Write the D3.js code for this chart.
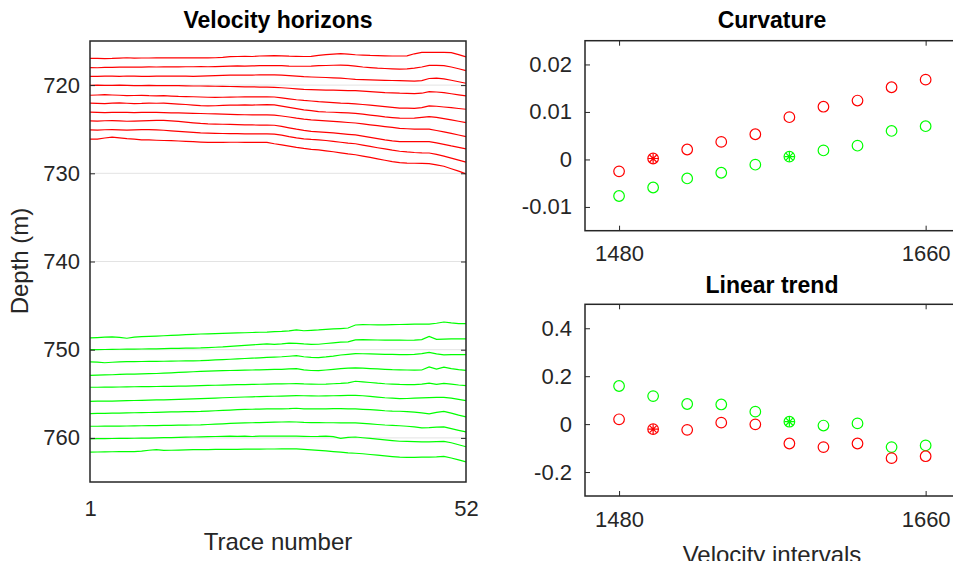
<!DOCTYPE html>
<html>
<head>
<meta charset="utf-8">
<script src="https://cdn.jsdelivr.net/npm/d3@7"></script>
<style>
  body { margin: 0; background: #fff; overflow: hidden; }
  svg { display: block; font-family: "Liberation Sans", Arial, Helvetica, sans-serif; }
  .tick text { fill: #262626; font-size: 22px; }
  .tick line { stroke: #262626; stroke-width: 1; }
</style>
</head>
<body>
<div id="chart"></div>
<script>
// horizon depths (m) per trace 1..52, picked off the figure
var redHorizons = [
  [716.96, 716.98, 717.00, 716.98, 716.94, 716.90, 716.95, 716.93, 716.93, 716.92, 716.92, 716.92, 716.92, 716.92, 716.92, 716.92, 716.92, 716.90, 716.85, 716.78, 716.76, 716.74, 716.76, 716.70, 716.68, 716.66, 716.68, 716.72, 716.74, 716.76, 716.74, 716.62, 716.55, 716.48, 716.44, 716.48, 716.56, 716.60, 716.64, 716.66, 716.68, 716.70, 716.70, 716.68, 716.45, 716.30, 716.28, 716.28, 716.28, 716.32, 716.55, 716.80],
  [718.02, 718.03, 718.0, 717.98, 717.97, 717.95, 717.97, 717.96, 717.94, 717.95, 717.93, 717.92, 717.93, 717.92, 717.92, 717.91, 717.92, 717.9, 717.88, 717.85, 717.83, 717.84, 717.82, 717.8, 717.8, 717.78, 717.8, 717.84, 717.86, 717.86, 717.84, 717.8, 717.78, 717.75, 717.74, 717.76, 717.85, 717.95, 718.02, 718.08, 718.12, 718.16, 718.2, 718.16, 718.08, 717.95, 717.76, 717.76, 717.8, 717.95, 718.15, 718.36],
  [719.0, 719.02, 718.99, 718.98, 719.0, 718.97, 718.98, 719.0, 719.01, 718.99, 718.98, 718.97, 718.98, 718.99, 719.0, 718.98, 718.96, 718.93, 718.9, 718.88, 718.87, 718.88, 718.86, 718.85, 718.84, 718.85, 718.88, 718.93, 718.98, 719.04, 719.08, 719.11, 719.14, 719.18, 719.22, 719.28, 719.34, 719.37, 719.4, 719.43, 719.46, 719.48, 719.5, 719.52, 719.55, 719.5, 719.25, 719.22, 719.3, 719.45, 719.62, 719.79],
  [720.02, 720.0, 720.03, 720.04, 720.0, 720.02, 720.05, 720.06, 720.04, 720.05, 720.07, 720.05, 720.06, 720.08, 720.1, 720.1, 720.12, 720.13, 720.15, 720.16, 720.18, 720.2, 720.2, 720.22, 720.24, 720.25, 720.3, 720.36, 720.42, 720.48, 720.52, 720.55, 720.57, 720.58, 720.6, 720.62, 720.63, 720.68, 720.74, 720.8, 720.85, 720.88, 720.92, 720.94, 720.96, 720.92, 720.74, 720.78, 720.85, 720.98, 721.1, 721.23],
  [721.15, 721.12, 721.08, 721.12, 721.15, 721.2, 721.18, 721.16, 721.2, 721.22, 721.2, 721.24, 721.28, 721.3, 721.32, 721.35, 721.38, 721.4, 721.38, 721.36, 721.35, 721.34, 721.33, 721.32, 721.33, 721.35, 721.45, 721.56, 721.66, 721.74, 721.8, 721.87, 721.92, 721.98, 722.04, 722.08, 722.13, 722.2, 722.28, 722.36, 722.44, 722.52, 722.6, 722.62, 722.64, 722.55, 722.36, 722.4, 722.48, 722.56, 722.65, 722.74],
  [722.05, 722.08, 722.1, 722.05, 722.02, 722.06, 722.1, 722.08, 722.04, 722.06, 722.05, 722.1, 722.15, 722.2, 722.26, 722.32, 722.36, 722.34, 722.3, 722.28, 722.26, 722.25, 722.26, 722.24, 722.22, 722.25, 722.38, 722.52, 722.66, 722.8, 722.9, 723.0, 723.05, 723.08, 723.12, 723.16, 723.2, 723.3, 723.4, 723.5, 723.6, 723.68, 723.75, 723.76, 723.74, 723.66, 723.57, 723.65, 723.8, 723.95, 724.1, 724.25],
  [723.07, 723.1, 723.12, 723.1, 723.08, 723.1, 723.12, 723.1, 723.08, 723.1, 723.12, 723.14, 723.16, 723.18, 723.2, 723.22, 723.25, 723.27, 723.3, 723.32, 723.34, 723.36, 723.37, 723.38, 723.38, 723.4, 723.5, 723.62, 723.75, 723.86, 723.94, 724.0, 724.06, 724.12, 724.18, 724.24, 724.3, 724.4, 724.5, 724.6, 724.7, 724.8, 724.9, 724.95, 725.0, 724.98, 725.0, 725.15, 725.3, 725.48, 725.66, 725.84],
  [724.06, 724.08, 724.04, 724.02, 724.06, 724.1, 724.08, 724.05, 724.02, 724.0, 724.0, 724.05, 724.12, 724.2, 724.28, 724.35, 724.4, 724.42, 724.44, 724.46, 724.48, 724.5, 724.52, 724.53, 724.54, 724.55, 724.68, 724.84, 725.0, 725.14, 725.24, 725.3, 725.36, 725.42, 725.5, 725.58, 725.65, 725.78, 725.92, 726.06, 726.2, 726.32, 726.4, 726.42, 726.42, 726.4, 726.4, 726.55, 726.72, 726.9, 727.06, 727.23],
  [725.08, 725.1, 725.06, 725.05, 725.08, 725.1, 725.08, 725.05, 725.05, 725.08, 725.12, 725.18, 725.24, 725.3, 725.36, 725.42, 725.45, 725.47, 725.49, 725.5, 725.51, 725.52, 725.53, 725.54, 725.54, 725.55, 725.68, 725.84, 725.98, 726.1, 726.16, 726.2, 726.28, 726.38, 726.48, 726.58, 726.65, 726.8, 726.95, 727.1, 727.24, 727.38, 727.5, 727.58, 727.64, 727.68, 727.7, 727.86, 728.06, 728.28, 728.5, 728.74],
  [726.13, 726.12, 726.0, 725.9, 725.98, 726.06, 726.12, 726.2, 726.22, 726.25, 726.28, 726.3, 726.34, 726.38, 726.42, 726.46, 726.5, 726.5, 726.49, 726.48, 726.48, 726.5, 726.5, 726.48, 726.5, 726.65, 726.78, 726.92, 727.06, 727.18, 727.28, 727.35, 727.45, 727.56, 727.68, 727.8, 727.9, 728.05, 728.2, 728.36, 728.52, 728.68, 728.8, 728.84, 728.86, 728.88, 728.9, 729.05, 729.2, 729.48, 729.76, 730.06]
]

var greenHorizons = [
  [748.67, 748.62, 748.58, 748.55, 748.6, 748.7, 748.58, 748.52, 748.48, 748.45, 748.42, 748.38, 748.34, 748.3, 748.26, 748.22, 748.2, 748.18, 748.15, 748.12, 748.1, 748.08, 748.05, 748.02, 748.0, 747.96, 747.92, 747.86, 747.75, 747.85, 747.8, 747.76, 747.7, 747.65, 747.6, 747.54, 747.2, 747.16, 747.17, 747.18, 747.18, 747.16, 747.14, 747.12, 747.1, 747.1, 747.09, 747.0, 746.86, 746.96, 747.04, 747.05],
  [749.99, 750.0, 749.98, 749.96, 749.95, 749.94, 749.93, 749.92, 749.9, 749.9, 749.88, 749.86, 749.85, 749.83, 749.82, 749.8, 749.76, 749.72, 749.68, 749.62, 749.56, 749.5, 749.45, 749.4, 749.35, 749.4, 749.34, 749.25, 749.28, 749.35, 749.4, 749.38, 749.3, 749.22, 749.15, 749.12, 748.88, 748.86, 748.88, 748.9, 748.92, 748.92, 748.92, 748.93, 748.92, 748.85, 748.5, 748.82, 748.8, 748.78, 748.78, 748.78],
  [751.39, 751.42, 751.48, 751.42, 751.38, 751.36, 751.35, 751.34, 751.33, 751.32, 751.31, 751.3, 751.28, 751.27, 751.26, 751.24, 751.2, 751.16, 751.12, 751.08, 751.04, 751.0, 750.96, 750.92, 750.88, 750.84, 750.8, 750.74, 750.67, 750.8, 750.88, 750.9, 750.82, 750.72, 750.6, 750.52, 750.45, 750.46, 750.48, 750.5, 750.52, 750.54, 750.55, 750.55, 750.52, 750.45, 750.3, 750.48, 750.58, 750.56, 750.55, 750.56],
  [752.9, 752.88, 752.86, 752.84, 752.8, 752.78, 752.76, 752.74, 752.72, 752.7, 752.66, 752.62, 752.58, 752.54, 752.5, 752.45, 752.42, 752.4, 752.38, 752.36, 752.34, 752.32, 752.3, 752.28, 752.26, 752.24, 752.22, 752.18, 752.15, 752.28, 752.36, 752.38, 752.3, 752.22, 752.14, 752.1, 752.07, 752.1, 752.14, 752.18, 752.22, 752.26, 752.28, 752.3, 752.32, 752.3, 751.96, 752.2, 751.98, 752.14, 752.26, 752.34],
  [754.26, 754.26, 754.25, 754.24, 754.23, 754.22, 754.2, 754.19, 754.18, 754.17, 754.16, 754.15, 754.14, 754.12, 754.1, 754.07, 754.05, 754.03, 754.01, 753.99, 753.97, 753.95, 753.93, 753.92, 753.9, 753.88, 753.87, 753.86, 753.84, 753.88, 753.9, 753.92, 753.9, 753.86, 753.82, 753.76, 753.58, 753.65, 753.72, 753.8, 753.86, 753.9, 753.94, 753.95, 753.96, 753.9, 753.78, 753.92, 753.82, 753.9, 754.0, 754.07],
  [755.85, 755.84, 755.83, 755.82, 755.8, 755.78, 755.76, 755.74, 755.72, 755.7, 755.68, 755.66, 755.63, 755.6, 755.57, 755.54, 755.51, 755.48, 755.45, 755.42, 755.39, 755.36, 755.34, 755.32, 755.3, 755.28, 755.26, 755.23, 755.2, 755.22, 755.24, 755.25, 755.24, 755.22, 755.2, 755.18, 755.17, 755.22, 755.3, 755.38, 755.45, 755.5, 755.54, 755.53, 755.5, 755.46, 755.43, 755.41, 755.4, 755.5, 755.64, 755.77],
  [757.24, 757.23, 757.22, 757.2, 757.18, 757.16, 757.15, 757.13, 757.12, 757.1, 757.08, 757.06, 757.04, 757.02, 757.01, 757.0, 756.96, 756.92, 756.88, 756.84, 756.8, 756.77, 756.75, 756.73, 756.72, 756.7, 756.7, 756.68, 756.64, 756.7, 756.72, 756.72, 756.7, 756.68, 756.68, 756.7, 756.72, 756.76, 756.8, 756.86, 756.92, 756.96, 756.98, 757.02, 757.08, 757.16, 757.28, 757.1, 757.0, 757.2, 757.42, 757.62],
  [758.68, 758.68, 758.67, 758.66, 758.66, 758.65, 758.64, 758.62, 758.6, 758.6, 758.58, 758.57, 758.56, 758.55, 758.54, 758.52, 758.48, 758.44, 758.4, 758.36, 758.32, 758.3, 758.28, 758.26, 758.24, 758.22, 758.2, 758.18, 758.2, 758.24, 758.26, 758.27, 758.28, 758.28, 758.29, 758.3, 758.3, 758.36, 758.42, 758.48, 758.54, 758.58, 758.62, 758.68, 758.76, 758.86, 758.84, 758.78, 758.75, 758.95, 759.14, 759.32],
  [760.1, 760.09, 760.08, 760.07, 760.06, 760.05, 760.04, 760.03, 760.02, 760.0, 759.98, 759.96, 759.94, 759.92, 759.9, 759.88, 759.86, 759.84, 759.82, 759.8, 759.82, 759.8, 759.84, 759.8, 759.8, 759.8, 759.8, 759.8, 759.8, 759.82, 759.84, 759.83, 759.8, 759.85, 760.06, 759.95, 759.9, 759.98, 760.06, 760.14, 760.22, 760.3, 760.38, 760.4, 760.42, 760.44, 760.44, 760.42, 760.4, 760.55, 760.78, 761.0],
  [761.62, 761.6, 761.58, 761.57, 761.56, 761.55, 761.55, 761.5, 761.4, 761.32, 761.42, 761.4, 761.38, 761.36, 761.34, 761.32, 761.32, 761.31, 761.3, 761.3, 761.29, 761.28, 761.28, 761.27, 761.26, 761.26, 761.25, 761.24, 761.24, 761.3, 761.36, 761.42, 761.48, 761.55, 761.62, 761.7, 761.74, 761.8, 761.88, 761.96, 762.04, 762.12, 762.19, 762.2, 762.2, 762.19, 762.18, 762.15, 762.1, 762.28, 762.5, 762.71]
]

var depthTicks = [720, 730, 740, 750, 760]
var traceTicks = [1, 52]

// velocity scan
var velocities = [1480, 1500, 1520, 1540, 1560, 1580, 1600, 1620, 1640, 1660]
var velocityTicks = [1480, 1660]
var curvRed = [-0.0025, 0.0002, 0.0021, 0.0037, 0.0053, 0.0089, 0.0111, 0.0124, 0.0152, 0.0168]
var curvGreen = [-0.0077, -0.0059, -0.0040, -0.0028, -0.0011, 0.0006, 0.0019, 0.0029, 0.0060, 0.0070]
var trendRed = [0.020, -0.021, -0.024, 0.006, -0.001, -0.081, -0.096, -0.081, -0.142, -0.134]
var trendGreen = [0.159, 0.117, 0.084, 0.082, 0.052, 0.010, -0.006, 0.003, -0.096, -0.089]
var curvTicks = [-0.01, 0, 0.01, 0.02]
var trendTicks = [-0.2, 0, 0.2, 0.4]
var pickRed = 1500, pickGreen = 1580   // the chosen velocities (asterisks)

var W = 953, H = 561
var svg = d3.select("#chart").append("svg").attr("width", W).attr("height", H)

var axisCol = "#262626"
var fmt = function(d){ return d === 0 ? "0" : String(d) }

// ---------- left: velocity horizons ----------
var x1 = d3.scaleLinear().domain([1, 52]).range([90, 466])
var y1 = d3.scaleLinear().domain([715, 765]).range([41, 482])

var g1 = svg.append("g")

g1.selectAll(".grid").data(depthTicks).enter().append("line")
  .attr("x1", x1.range()[0]).attr("x2", x1.range()[1])
  .attr("y1", function(d){ return y1(d) }).attr("y2", function(d){ return y1(d) })
  .attr("stroke", "#e3e3e3").attr("stroke-width", 1)

var line1 = d3.line()
  .x(function(d, i){ return x1(i + 1) })
  .y(function(d){ return y1(d) })

g1.selectAll(".red").data(redHorizons).enter().append("path")
  .attr("d", line1).attr("fill", "none").attr("stroke", "#ff0000").attr("stroke-width", 1.2)
g1.selectAll(".green").data(greenHorizons).enter().append("path")
  .attr("d", line1).attr("fill", "none").attr("stroke", "#00ff00").attr("stroke-width", 1.2)

g1.append("g").attr("transform", "translate(90,0)")
  .call(d3.axisLeft(y1).tickValues(depthTicks).tickSize(-5).tickPadding(10).tickFormat(fmt))
g1.append("g").attr("transform", "translate(466,0)")
  .call(d3.axisRight(y1).tickValues(depthTicks).tickSize(-5).tickFormat(""))
g1.append("g").attr("transform", "translate(0,482)")
  .call(d3.axisBottom(x1).tickValues(traceTicks).tickSize(0).tickPadding(18).tickFormat(fmt))
g1.selectAll(".domain").remove()

g1.append("rect").attr("x", 90).attr("y", 41).attr("width", 376).attr("height", 441)
  .attr("fill", "none").attr("stroke", axisCol).attr("stroke-width", 1.5)

g1.append("text").attr("x", 278).attr("y", 28).attr("text-anchor", "middle")
  .attr("font-size", 23).attr("font-weight", "bold").attr("fill", "#000").text("Velocity horizons")
g1.append("text").attr("x", 278).attr("y", 550).attr("text-anchor", "middle")
  .attr("font-size", 24).attr("fill", axisCol).text("Trace number")
g1.append("text").attr("transform", "translate(28,261) rotate(-90)").attr("text-anchor", "middle")
  .attr("font-size", 24).attr("fill", axisCol).text("Depth (m)")

// ---------- right: scan panels ----------
var xv = d3.scaleLinear().domain([1460, 1680]).range([585, 959.7])

function asterisk(r){
  var p = d3.path()
  for (var k = 0; k < 4; k++) {
    var a = k * Math.PI / 4
    p.moveTo(-r * Math.cos(a), -r * Math.sin(a))
    p.lineTo(r * Math.cos(a), r * Math.sin(a))
  }
  return p.toString()
}

function scanPanel(top, bottom, domain, ticks, redVals, greenVals, title, titleY, xlabel){
  var y = d3.scaleLinear().domain(domain).range([bottom, top])
  var g = svg.append("g")

  var series = [
    { vals: greenVals, col: "#00ff00", pick: pickGreen },
    { vals: redVals, col: "#ff0000", pick: pickRed }
  ]
  series.forEach(function(s){
    g.selectAll(null).data(velocities).enter().append("circle")
      .attr("cx", function(d){ return xv(d) })
      .attr("cy", function(d, i){ return y(s.vals[i]) })
      .attr("r", 5.3).attr("fill", "none").attr("stroke", s.col).attr("stroke-width", 1.2)
    var pi = velocities.indexOf(s.pick)
    g.append("path").attr("d", asterisk(5))
      .attr("transform", "translate(" + xv(s.pick) + "," + y(s.vals[pi]) + ")")
      .attr("stroke", s.col).attr("stroke-width", 1.2).attr("fill", "none")
  })

  g.append("g").attr("transform", "translate(585,0)")
    .call(d3.axisLeft(y).tickValues(ticks).tickSize(-5).tickPadding(13).tickFormat(fmt))
  g.append("g").attr("transform", "translate(0," + bottom + ")")
    .call(d3.axisBottom(xv).tickValues(velocityTicks).tickSize(-5).tickPadding(15).tickFormat(fmt))
  g.append("g").attr("transform", "translate(0," + top + ")")
    .call(d3.axisTop(xv).tickValues(velocityTicks).tickSize(-5).tickFormat(""))
  g.selectAll(".domain").remove()

  g.append("rect").attr("x", 585).attr("y", top).attr("width", 959.7 - 585).attr("height", bottom - top)
    .attr("fill", "none").attr("stroke", axisCol).attr("stroke-width", 1.5)

  g.append("text").attr("x", 772).attr("y", titleY).attr("text-anchor", "middle")
    .attr("font-size", 23).attr("font-weight", "bold").attr("fill", "#000").text(title)
  if (xlabel) {
    // sits partly below the page edge, as in the source figure
    g.append("text").attr("x", 772).attr("y", 563).attr("text-anchor", "middle")
      .attr("font-size", 24).attr("fill", axisCol).text(xlabel)
  }
}

scanPanel(40.7, 230.7, [-0.015, 0.025], curvTicks, curvRed, curvGreen, "Curvature", 28, null)
scanPanel(304.3, 496, [-0.3, 0.5], trendTicks, trendRed, trendGreen, "Linear trend", 293, "Velocity intervals")
</script>
</body>
</html>
